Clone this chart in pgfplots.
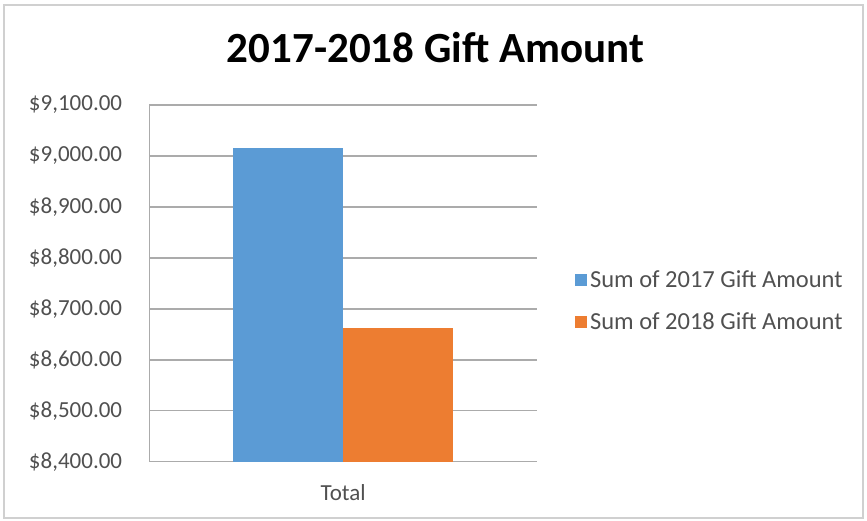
\documentclass[border=0pt]{standalone}
\usepackage{pgfplots}
\pgfplotsset{compat=1.18}
\usepackage{fontspec}
\setmainfont{Carlito}
\definecolor{c17}{HTML}{5B9BD5}
\definecolor{c18}{HTML}{ED7D31}
\definecolor{gridc}{HTML}{ABABAB}
\definecolor{txt}{HTML}{505050}
\definecolor{framec}{HTML}{D0D0D0}
\begin{document}
\begin{tikzpicture}[x=1bp,y=1bp]
\path[use as bounding box] (0,0) rectangle (867,521);
\draw[framec, line width=2bp] (4,3) rectangle (863,516);
\node[anchor=base, font=\fontsize{43bp}{50bp}\selectfont\bfseries, inner sep=0pt] at (435.5,458) {2017-2018 Gift Amount};
\begin{axis}[
  at={(149.3bp,59.3bp)}, anchor=south west,
  scale only axis, width=387.7bp, height=356.7bp,
  ybar=0pt, bar width=110bp,
  xmin=-1, xmax=1, ymin=8400, ymax=9100,
  xtick={0}, xticklabels={Total},
  ytick={8400,8500,...,9100},
  /pgf/number format/assume math mode=true,
  yticklabel={\$\pgfmathprintnumber[fixed,fixed zerofill,precision=2,1000 sep={,}]{\tick}},
  ymajorgrids, grid style={gridc, line width=1.5bp},
  axis line style={gridc, line width=1.5bp},
  axis x line*=bottom, axis y line*=left,
  x axis line style={draw=none},
  tick style={draw=none},
  tick label style={font=\fontsize{23bp}{27bp}\selectfont, text=txt},
  yticklabel style={anchor=east, inner sep=0pt, xshift=-27bp},
  xticklabel style={anchor=center, inner sep=0pt, yshift=-27bp},
  legend style={draw=none, fill=none, at={(1.0977,0.451)}, anchor=west,
    inner sep=0pt, row sep=24bp,
    font=\fontsize{24.5bp}{28bp}\selectfont,
    nodes={inner sep=0pt, text=txt, anchor=west}},
  legend cell align=left,
  legend image code/.code={\fill[#1] (0bp,-6bp) rectangle (12bp,6bp);},
  every axis legend/.append style={column sep=3bp},
]
\addplot[fill=c17, draw=none] coordinates {(0,9016)};
\addplot[fill=c18, draw=none] coordinates {(0,8662)};
\legend{Sum of 2017 Gift Amount, Sum of 2018 Gift Amount}
\end{axis}
\end{tikzpicture}
\end{document}
